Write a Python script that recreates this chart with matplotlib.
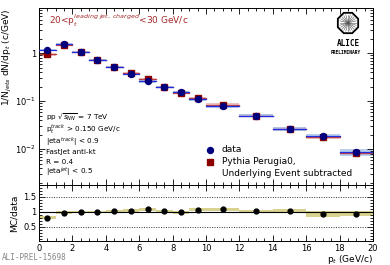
import numpy as np
import matplotlib
matplotlib.use("Agg")
import matplotlib.pyplot as plt
from matplotlib.patches import Rectangle, RegularPolygon
from matplotlib.ticker import MultipleLocator, LogLocator, NullFormatter

# ---- data ----
bin_lo = [0, 1, 2, 3, 4, 5, 6, 7, 8, 9, 10, 12, 14, 16, 18]
bin_hi = [1, 2, 3, 4, 5, 6, 7, 8, 9, 10, 12, 14, 16, 18, 20]
data_vals = [1.15, 1.54, 1.05, 0.715, 0.51, 0.365, 0.26, 0.196, 0.154, 0.110,
             0.0787, 0.050, 0.026, 0.0187, 0.0087]
data_sys = [0.05, 0.05, 0.05, 0.05, 0.05, 0.05, 0.06, 0.06, 0.06, 0.07,
            0.07, 0.07, 0.09, 0.10, 0.15]
mc_vals = [0.94, 1.49, 1.05, 0.715, 0.52, 0.38, 0.285, 0.20, 0.151, 0.118,
           0.085, 0.050, 0.0268, 0.0176, 0.0082]
ratio_vals = [0.81, 0.97, 1.00, 1.00, 1.02, 1.04, 1.09, 1.02, 0.98, 1.07,
              1.08, 1.01, 1.03, 0.94, 0.94]
ratio_sys = [0.06, 0.05, 0.04, 0.04, 0.04, 0.04, 0.05, 0.04, 0.05, 0.06,
             0.06, 0.05, 0.07, 0.10, 0.07]

bin_lo = np.array(bin_lo, float)
bin_hi = np.array(bin_hi, float)
centers = 0.5 * (bin_lo + bin_hi)

W, H = 390, 265
fig = plt.figure(figsize=(W / 100, H / 100), dpi=100)
fs = 6

ax = fig.add_axes([39 / W, 1 - 185 / H, (373 - 39) / W, (185 - 8) / H])
axr = fig.add_axes([39 / W, 1 - 241 / H, (373 - 39) / W, (241 - 185) / H], sharex=ax)

navy = "#00007f"
dred = "#8b0000"

# MC boxes and lines
for lo, hi, v in zip(bin_lo, bin_hi, mc_vals):
    ax.add_patch(Rectangle((lo, v * 0.94), hi - lo, v * 0.12, facecolor="#e8b4b4",
                           edgecolor="none", alpha=0.8, zorder=1))
    ax.plot([lo, hi], [v, v], color="#c04040", lw=0.9, zorder=2)
# data boxes and lines
for lo, hi, v, s in zip(bin_lo, bin_hi, data_vals, data_sys):
    ax.add_patch(Rectangle((lo, v * (1 - s)), hi - lo, v * 2 * s, facecolor="#a8c4ea",
                           edgecolor="none", alpha=0.8, zorder=1))
    ax.plot([lo, hi], [v, v], color="#2030e0", lw=0.9, zorder=3)

ax.plot(centers, mc_vals, ls="none", marker="s", ms=4, color=dred, zorder=4)
ax.plot(centers, data_vals, ls="none", marker="o", ms=4.3, color=navy, zorder=5)

ax.set_yscale("log")
ax.set_xlim(0, 20)
ax.set_ylim(0.0018, 8.7)
ax.yaxis.set_minor_locator(LogLocator(base=10, subs=np.arange(2, 10), numticks=20))
ax.yaxis.set_minor_formatter(NullFormatter())
ax.set_yticks([0.01, 0.1, 1])
ax.set_yticklabels(["$10^{-2}$", "$10^{-1}$", "1"])
ax.tick_params(axis="x", labelbottom=False)
ax.set_ylabel(r"1/N$_{jets}$ dN/dp$_{t}$ (c/GeV)", fontsize=6.5, labelpad=1, loc="top")

for a in (ax, axr):
    a.tick_params(which="both", direction="in", top=True, right=True, labelsize=fs,
                  width=0.6, pad=2)
    a.tick_params(which="major", length=4)
    a.tick_params(which="minor", length=2)
    a.xaxis.set_major_locator(MultipleLocator(2))
    a.xaxis.set_minor_locator(MultipleLocator(0.5))
    for sp in a.spines.values():
        sp.set_linewidth(0.7)

# text
ax.text(0.03, 0.93, r"20<p$_{t}^{leading\ jet,\ charged}$<30 GeV/c", transform=ax.transAxes,
        color="#a52a2a", fontsize=6.5, va="center", ha="left")
lines = [r"pp $\sqrt{s_{NN}}$ = 7 TeV", r"p$_{t}^{track}$ > 0.150 GeV/c",
         r"|eta$^{track}$| < 0.9", "FastJet anti-kt", "R = 0.4", r"|eta$^{jet}$| < 0.5"]
ys = [117, 129, 141, 152, 162, 172]
for t, y in zip(lines, ys):
    fig.text(46 / W, 1 - y / H, t, fontsize=5.2, va="center", ha="left")

# legend
fig.text(222 / W, 1 - 150 / H, "data", fontsize=6.5, va="center")
fig.text(222 / W, 1 - 162 / H, "Pythia Perugia0,", fontsize=6.5, va="center")
fig.text(222 / W, 1 - 173 / H, "Underlying Event subtracted", fontsize=6.5, va="center")
fig.lines.append(plt.Line2D([210 / W], [1 - 150 / H], marker="o", ms=4.3, color=navy,
                            transform=fig.transFigure))
fig.lines.append(plt.Line2D([210 / W], [1 - 162 / H], marker="s", ms=4, color=dred,
                            transform=fig.transFigure))

# ALICE logo
la = fig.add_axes([336 / W, 1 - 35 / H, 24 / W, 24 / H])
la.set_xlim(-1.2, 1.2)
la.set_ylim(-1.2, 1.2)
la.set_aspect("equal")
la.axis("off")
la.add_patch(RegularPolygon((0, 0), 8, radius=1.1, orientation=np.pi / 8,
                            facecolor="white", edgecolor="black", lw=1.3))
for ang in np.linspace(0, 2 * np.pi, 24, endpoint=False):
    la.plot([0, 0.85 * np.cos(ang)], [0, 0.85 * np.sin(ang)], color="#555555", lw=0.4)
fig.text(348 / W, 1 - 44 / H, "ALICE", fontsize=5.5, ha="center", va="center",
         family="DejaVu Sans Mono", weight="bold")
fig.text(346 / W, 1 - 52 / H, "PRELIMINARY", fontsize=3.3, ha="center", va="center",
         family="DejaVu Sans Mono", weight="bold")

# ratio panel
for lo, hi, r, s in zip(bin_lo, bin_hi, ratio_vals, ratio_sys):
    axr.add_patch(Rectangle((lo, r - s), hi - lo, 2 * s, facecolor="#d4cd84",
                            edgecolor="none", alpha=0.9, zorder=1))
axr.axhline(1.0, color="black", lw=0.8, zorder=2)
axr.axhline(1.5, color="#333333", lw=0.7, ls=(0, (1, 1.5)), zorder=2)
axr.axhline(0.5, color="#333333", lw=0.7, ls=(0, (1, 1.5)), zorder=2)
axr.plot(centers, ratio_vals, ls="none", marker="o", ms=3.5, color="black", zorder=3)
axr.set_ylim(0.03, 1.89)
axr.set_yticks([0.5, 1, 1.5])
axr.set_yticklabels(["0.5", "1", "1.5"])
axr.yaxis.set_minor_locator(MultipleLocator(0.1))
axr.set_ylabel("MC/data", fontsize=6.5, labelpad=3)
axr.set_xlim(0, 20)
axr.set_xlabel(r"p$_{t}$ (GeV/c)", fontsize=6.5, loc="right", labelpad=0)

fig.text(2 / W, 1 - 258 / H, "ALI-PREL-15698", fontsize=5.5, color="#888888",
         family="DejaVu Sans Mono", va="center")

fig.savefig("out.png", dpi=100)
